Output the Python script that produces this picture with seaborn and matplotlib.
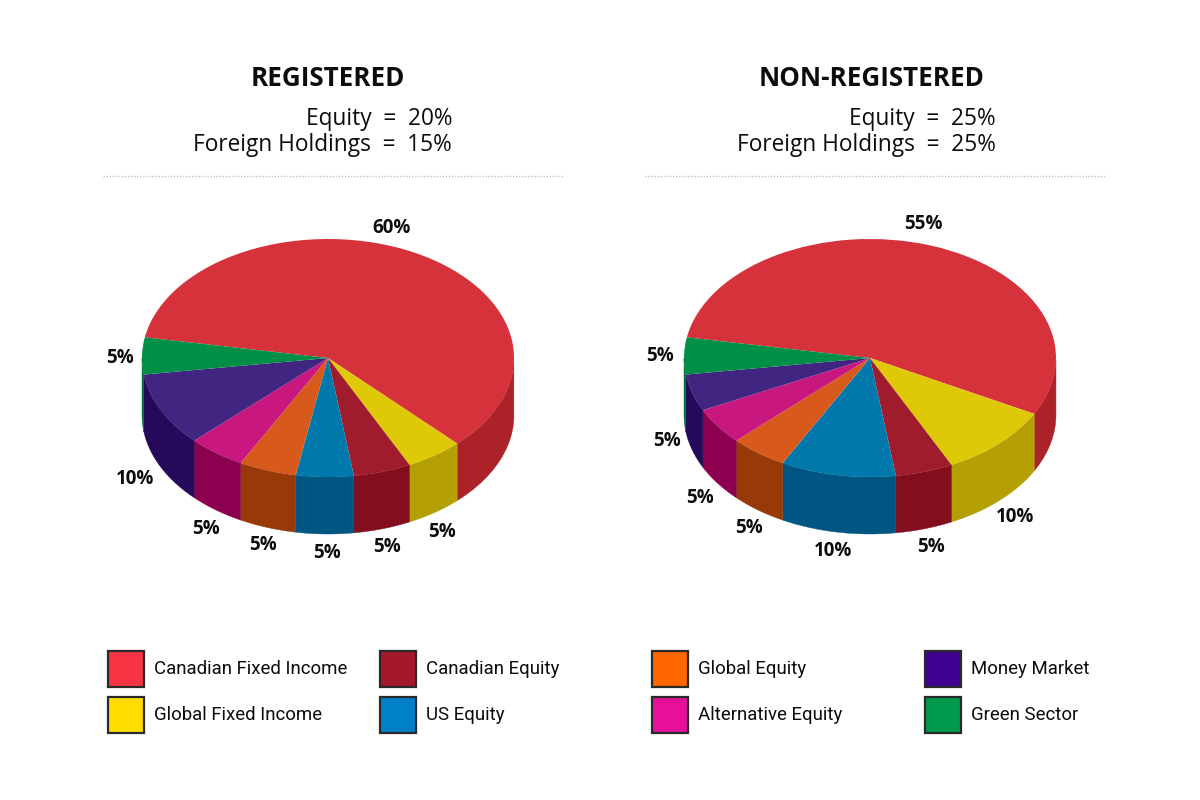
import numpy as np
import seaborn as sns
import matplotlib.pyplot as plt
from matplotlib.patches import Rectangle

categories = ["Canadian Fixed Income", "Global Fixed Income", "Canadian Equity", "US Equity",
              "Global Equity", "Alternative Equity", "Money Market", "Green Sector"]
registered = [60, 5, 5, 5, 5, 5, 10, 5]
non_registered = [55, 10, 5, 10, 5, 5, 5, 5]

top_colors = ["#D6323C", "#DFC808", "#A01C2C", "#0078AC", "#D8591C", "#C81880", "#402680", "#008F47"]
side_colors = ["#AC2229", "#B49F05", "#820E1E", "#005682", "#973A08", "#8C0050", "#26095A", "#007038"]
legend_colors = ["#F93545", "#FFDD00", "#A5182C", "#0080C8", "#FF6600", "#E6109A", "#400090", "#009A4C"]

START = 170
RX, RY, DEPTH = 186, 119, 57
W, H = 1200, 800

sns.set_theme(style="white")
plt.rcParams["font.family"] = ["Open Sans", "DejaVu Sans"]
TEXT = "#0c0c0c"

fig = plt.figure(figsize=(12, 8), dpi=100, facecolor="white")

# overlay in pixel coordinates for the text and legend
over = fig.add_axes([0, 0, 1, 1], zorder=5)
over.set_xlim(0, W)
over.set_ylim(H, 0)
over.axis("off")


def draw_pie(values, cx, cy):
    # axes spans +-1.2 radii around the centre, data units are radii
    left = (cx - 1.2 * RX) / W
    bottom = (H - cy - 1.8 * RY) / H
    ax = fig.add_axes([left, bottom, 2.4 * RX / W, 3.0 * RY / H])
    ax.pie(values, colors=sns.color_palette(top_colors), startangle=START, counterclock=False,
           radius=1, wedgeprops=dict(linewidth=0))
    ax.set_aspect("auto")
    ax.set_xlim(-1.2, 1.2)
    ax.set_ylim(-1.8, 1.2)
    ax.axis("off")

    # side wall, only the part of each slice on the lower half shows
    d = DEPTH / RY
    angle = START
    for v, c in zip(values, side_colors):
        end = angle - v * 3.6
        a = np.linspace(angle, end, 60)
        a = a[(a % 360) >= 180]
        if len(a) > 1:
            x = np.cos(np.radians(a))
            y = np.sin(np.radians(a))
            ax.fill(np.r_[x, x[::-1]], np.r_[y, y[::-1] - d], color=c, lw=0.3, zorder=0)
        angle = end
    return ax


def panel_text(title, x_title, x_right, equity, foreign, x_line):
    over.text(x_title, 79, title, ha="center", va="center", fontsize=18.7, fontweight="bold", color=TEXT)
    over.text(x_right, 119, f"Equity  =  {equity}%", ha="right", va="center", fontsize=16.3, color=TEXT)
    over.text(x_right, 145, f"Foreign Holdings  =  {foreign}%", ha="right", va="center", fontsize=16.3, color=TEXT)
    over.plot(x_line, [176, 176], color="#c4c4c4", lw=1, ls=(0, (1, 1.2)))


def pct_labels(values, spots):
    for v, (x, y) in zip(values, spots):
        over.text(x, y + 1, f"{v}%", ha="center", va="center", fontsize=13.5, fontweight="bold", color=TEXT)


draw_pie(registered, 328, 358)
draw_pie(non_registered, 870, 358)

panel_text("REGISTERED", 328, 452, 20, 15, [103, 563])
panel_text("NON-REGISTERED", 872, 996, 25, 25, [645, 1106])

pct_labels(registered, [(392, 227), (442, 531), (387, 546), (327, 552),
                        (263, 544), (206, 528), (135, 478), (120, 357)])
pct_labels(non_registered, [(923, 223), (1015, 516), (931, 546), (833, 550),
                            (749, 527), (700, 497), (667, 440), (660, 355)])

# legend: read across the page, two rows
legend_order = [0, 2, 4, 6, 1, 3, 5, 7]
col_x = [108, 380, 652, 925]
row_y = [651, 697]
for n, idx in enumerate(legend_order):
    x = col_x[n % 4]
    y = row_y[n // 4]
    over.add_patch(Rectangle((x, y), 36, 36, facecolor=legend_colors[idx], edgecolor="#2a2a2a", lw=1.6))
    over.text(x + 46, y + 18, categories[idx], ha="left", va="center", fontsize=13.4, color=TEXT,
              family=["Roboto", "DejaVu Sans"])

fig.savefig("out.png", dpi=100)
